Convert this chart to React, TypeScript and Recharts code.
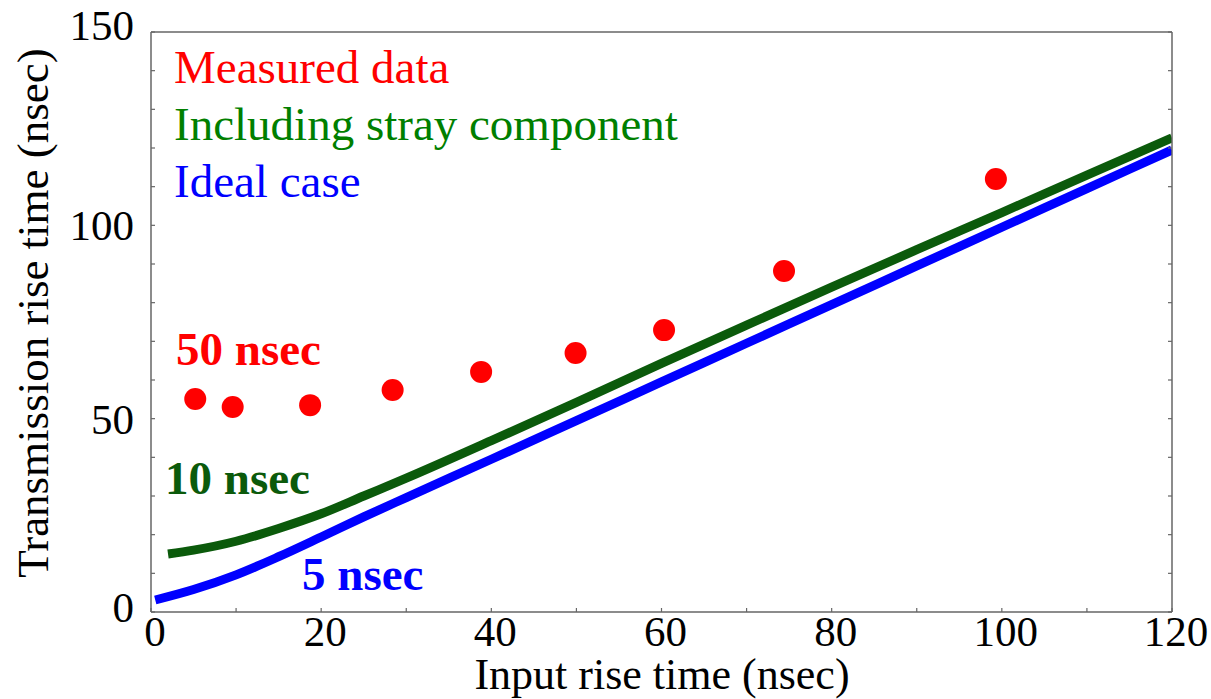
import React from "react";
import { ComposedChart, Line, Scatter, XAxis, YAxis } from "recharts";

// ---- data ----
const measuredX = [5.2, 9.6, 18.7, 28.4, 38.8, 49.9, 60.3, 74.4, 99.3];
const measuredY = [55.1, 53.0, 53.5, 57.4, 62.1, 67.0, 72.9, 88.2, 112.0];

const strayX = [2, 5, 10, 15, 20, 25, 30, 40, 50, 60, 70, 80, 90, 100, 110, 120];
const strayY = [15.0, 16.0, 18.3, 21.6, 25.4, 30.0, 34.6, 44.3, 54.2, 64.3, 74.2, 84.0, 93.7, 103.3, 113.0, 122.6];

const idealX = [0.5, 5, 10, 15, 20, 25, 30, 40, 50, 60, 70, 80, 90, 100, 110, 120];
const idealY = [3.1, 5.8, 9.6, 14.3, 19.4, 24.6, 29.6, 39.5, 49.5, 59.5, 69.5, 79.5, 89.5, 99.5, 109.5, 119.5];

const xTicks = [0, 10, 20, 30, 40, 50, 60, 70, 80, 90, 100, 110, 120];
const yTicks = [0, 10, 20, 30, 40, 50, 60, 70, 80, 90, 100, 110, 120, 130, 140, 150];
const xLabelEvery = 20;
const yLabelEvery = 50;

const legendTexts = ["Measured data", "Including stray component", "Ideal case"];
const annotationTexts = ["50 nsec", "10 nsec", "5 nsec"];
const xTitle = "Input rise time (nsec)";
const yTitle = "Transmission rise time (nsec)";

const measured = measuredX.map((x, i) => ({ x, y: measuredY[i] }));
const stray = strayX.map((x, i) => ({ x, y: strayY[i] }));
const ideal = idealX.map((x, i) => ({ x, y: idealY[i] }));

const FONT = "'Liberation Serif', 'Times New Roman', serif";
const FRAME = "#666666";
const RED = "#ff0000";
const GREEN_TEXT = "#007f00";
const GREEN_LINE = "#0b5a0b";
const BLUE = "#0000ff";
const TICK_LEN = 4;

const BottomTick = (p: any) => {
  const v = p.payload.value;
  return (
    <g>
      <line x1={p.x} y1={p.y} x2={p.x} y2={p.y - TICK_LEN} stroke={FRAME} strokeWidth={1.2} />
      {v % xLabelEvery === 0 && (
        <text x={p.x + 4} y={p.y + 34} textAnchor="middle" fontFamily={FONT} fontSize={43} fill="#000">
          {v}
        </text>
      )}
    </g>
  );
};

const TopTick = (p: any) => (
  <line x1={p.x} y1={p.y} x2={p.x} y2={p.y + TICK_LEN} stroke={FRAME} strokeWidth={1.2} />
);

const LeftTick = (p: any) => {
  const v = p.payload.value;
  const shift = v === 0 ? -5 : v === 150 ? -7 : 0;
  return (
    <g>
      <line x1={p.x} y1={p.y} x2={p.x + TICK_LEN} y2={p.y} stroke={FRAME} strokeWidth={1.2} />
      {v % yLabelEvery === 0 && (
        <text x={p.x - 17} y={p.y + 15 + shift} textAnchor="end" fontFamily={FONT} fontSize={43} fill="#000">
          {v}
        </text>
      )}
    </g>
  );
};

const RightTick = (p: any) => (
  <line x1={p.x} y1={p.y} x2={p.x - TICK_LEN} y2={p.y} stroke={FRAME} strokeWidth={1.2} />
);

const Dot = (p: any) => <circle cx={p.cx} cy={p.cy} r={11} fill={RED} />;

export default function App() {
  return (
    <div style={{ position: "absolute", left: 0, top: 0, width: 1211, height: 699, background: "#fff" }}>
      <ComposedChart
        width={1211}
        height={699}
        margin={{ top: 31, right: 38, bottom: 26, left: 91 }}
      >
        <XAxis
          xAxisId="b"
          dataKey="x"
          type="number"
          domain={[0, 120]}
          ticks={xTicks}
          allowDataOverflow
          orientation="bottom"
          height={61}
          tickSize={0}
          tickMargin={0}
          tickLine={false}
          axisLine={{ stroke: FRAME, strokeWidth: 1.5 }}
          tick={<BottomTick />}
          interval={0}
        />
        <XAxis
          xAxisId="t"
          type="number"
          domain={[0, 120]}
          ticks={xTicks}
          allowDataOverflow
          orientation="top"
          height={1}
          tickSize={0}
          tickMargin={0}
          tickLine={false}
          axisLine={{ stroke: FRAME, strokeWidth: 1.5 }}
          tick={<TopTick />}
          interval={0}
        />
        <YAxis
          yAxisId="l"
          dataKey="y"
          type="number"
          domain={[0, 150]}
          ticks={yTicks}
          allowDataOverflow
          orientation="left"
          width={60}
          tickSize={0}
          tickMargin={0}
          tickLine={false}
          axisLine={{ stroke: FRAME, strokeWidth: 1.5 }}
          tick={<LeftTick />}
          interval={0}
        />
        <YAxis
          yAxisId="r"
          type="number"
          domain={[0, 150]}
          ticks={yTicks}
          allowDataOverflow
          orientation="right"
          width={1}
          tickSize={0}
          tickMargin={0}
          tickLine={false}
          axisLine={{ stroke: FRAME, strokeWidth: 1.5 }}
          tick={<RightTick />}
          interval={0}
        />
        <Line
          xAxisId="b"
          yAxisId="l"
          data={stray}
          dataKey="y"
          type="monotone"
          stroke={GREEN_LINE}
          strokeWidth={9}
          dot={false}
          activeDot={false}
          isAnimationActive={false}
        />
        <Line
          xAxisId="b"
          yAxisId="l"
          data={ideal}
          dataKey="y"
          type="monotone"
          stroke={BLUE}
          strokeWidth={9}
          dot={false}
          activeDot={false}
          isAnimationActive={false}
        />
        <Scatter
          xAxisId="b"
          yAxisId="l"
          data={measured}
          dataKey="y"
          fill={RED}
          shape={<Dot />}
          isAnimationActive={false}
        />
      </ComposedChart>
      <svg
        width={1211}
        height={699}
        style={{ position: "absolute", left: 0, top: 0, pointerEvents: "none" }}
      >
        <g fontFamily={FONT} fontSize={47}>
          <text x={174} y={83} fill={RED}>{legendTexts[0]}</text>
          <text x={174} y={140} fill={GREEN_TEXT}>{legendTexts[1]}</text>
          <text x={174} y={197} fill={BLUE}>{legendTexts[2]}</text>
        </g>
        <g fontFamily={FONT} fontSize={47} fontWeight="bold">
          <text x={176} y={365} fill={RED}>{annotationTexts[0]}</text>
          <text x={165} y={494} fill={GREEN_LINE}>{annotationTexts[1]}</text>
          <text x={302} y={590} fill={BLUE}>{annotationTexts[2]}</text>
        </g>
        <text x={662} y={689} textAnchor="middle" fontFamily={FONT} fontSize={44} fill="#000">
          {xTitle}
        </text>
        <text
          x={0}
          y={0}
          transform="translate(48 313) rotate(-90)"
          textAnchor="middle"
          fontFamily={FONT}
          fontSize={45}
          fill="#000"
        >
          {yTitle}
        </text>
      </svg>
    </div>
  );
}
